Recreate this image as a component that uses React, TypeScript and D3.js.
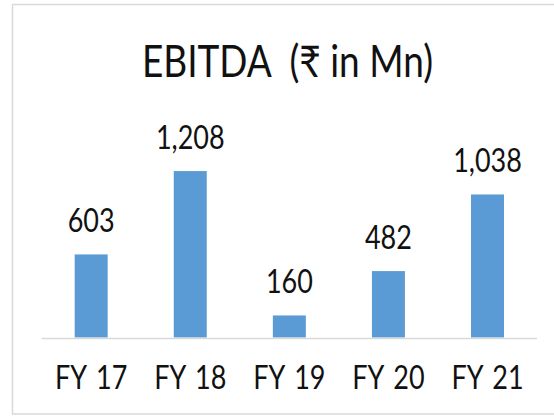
import React from "react";
import * as d3 from "d3";

const categories = ["FY 17", "FY 18", "FY 19", "FY 20", "FY 21"];
const values = [603, 1208, 160, 482, 1038];
const valueLabels = ["603", "1,208", "160", "482", "1,038"];
const title = "EBITDA  (₹ in Mn)";

const W = 554;
const H = 416;
const FONT = "Lato, 'Noto Sans', sans-serif";

export default function App() {
  const x = d3.scaleBand<string>().domain(categories).range([41.7, 537]).paddingInner(0.667).paddingOuter(0.333);
  const y = d3.scaleLinear().domain([0, 1400]).range([337.5, 144.6]);
  const sy = 1.18;
  return (
    <svg width={W} height={H} style={{ position: "absolute", left: 0, top: 0, background: "#fff" }}>
      <rect x={12.5} y={4.5} width={560} height={409.5} fill="#fff" stroke="#d9d9d9" strokeWidth={1.5} />
      <text
        transform={`translate(287.5,77) scale(1,${sy})`}
        textAnchor="middle"
        fontFamily={FONT}
        fontSize={37}
        fill="#111"
        style={{ whiteSpace: "pre" }}
      >
        {title}
      </text>
      {categories.map((c, i) => (
        <rect
          key={c}
          x={x(c)!}
          y={y(values[i])}
          width={x.bandwidth()}
          height={y(0) - y(values[i])}
          fill="#5b9bd5"
        />
      ))}
      <line x1={41.7} x2={537} y1={338.5} y2={338.5} stroke="#d9d9d9" strokeWidth={1.5} />
      {categories.map((c, i) => (
        <text
          key={"v" + c}
          transform={`translate(${x(c)! + x.bandwidth() / 2},${y(values[i]) - 22}) scale(1,${sy})`}
          textAnchor="middle"
          fontFamily={FONT}
          fontSize={27}
          fill="#111"
        >
          {valueLabels[i]}
        </text>
      ))}
      {categories.map((c) => (
        <text
          key={"c" + c}
          transform={`translate(${x(c)! + x.bandwidth() / 2},389) scale(1,${sy})`}
          textAnchor="middle"
          fontFamily={FONT}
          fontSize={27}
          wordSpacing={3}
          fill="#111"
        >
          {c}
        </text>
      ))}
    </svg>
  );
}
